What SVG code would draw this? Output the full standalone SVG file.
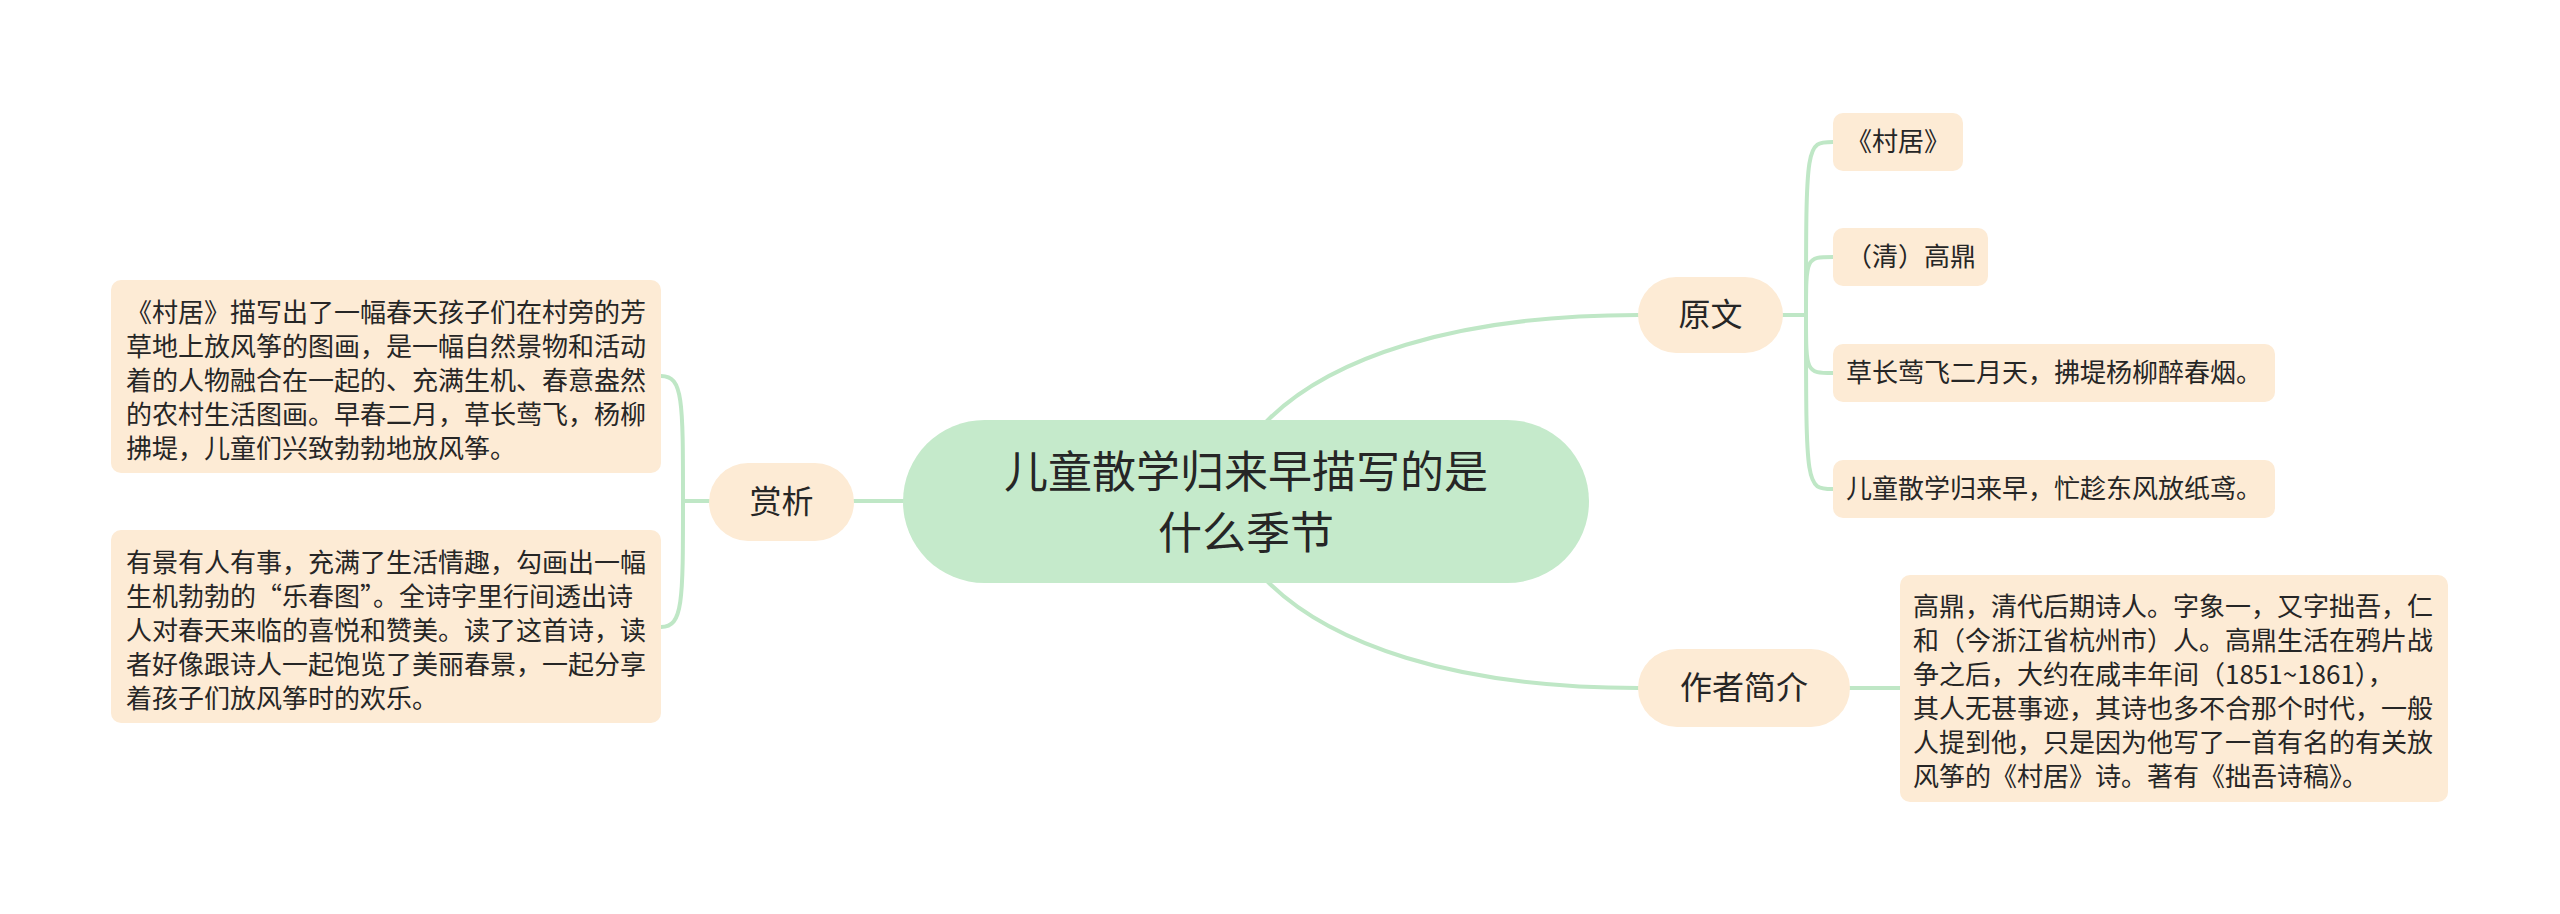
<svg xmlns="http://www.w3.org/2000/svg" width="2560" height="914" viewBox="0 0 2560 914">
<style>
.t{font-family:"Noto Sans CJK SC","Noto Sans",sans-serif;fill:#262626}
.c{font-size:26px}
.m{font-size:32px;text-anchor:middle}
.root{font-size:44px;text-anchor:middle}
.nb{fill:#fdebd5}
.ln{fill:none;stroke:#bfe7c6;stroke-width:4;stroke-linecap:round}
</style>
<rect width="2560" height="914" fill="#ffffff"/>
<g id="connectors">
<path class="ln" d="M1250 438 L1270 418 C1330 360 1450 315 1638 315"/>
<path class="ln" d="M1250 564 L1270 584 C1330 642 1450 688 1638 688"/>
<path class="ln" d="M854 501 H903"/>
<path class="ln" d="M709 501 H683"/>
<path class="ln" d="M683 501 C683 400 683 376 661 376"/>
<path class="ln" d="M683 501 C683 602 683 627 661 627"/>
<path class="ln" d="M1783 315 H1806"/>
<path class="ln" d="M1806 315 C1806 142 1806 142 1833 142"/>
<path class="ln" d="M1806 315 C1806 257 1806 257 1833 257"/>
<path class="ln" d="M1806 315 C1806 373 1806 373 1833 373"/>
<path class="ln" d="M1806 315 C1806 489 1806 489 1833 489"/>
<path class="ln" d="M1850 688 H1900"/>
</g>
<g id="root">
<rect x="903" y="420" width="686" height="163" rx="81.5" fill="#c5eacb"/>
<text class="t root" x="1246" y="488">儿童散学归来早描写的是</text>
<text class="t root" x="1246" y="549">什么季节</text>
</g>
<g id="shangxi">
<rect class="nb" x="709" y="463" width="145" height="78" rx="39"/>
<text class="t m" x="781.5" y="513">赏析</text>
</g>
<g id="shangxi-1">
<rect class="nb" x="111" y="280" width="550" height="193" rx="10"/>
<text class="t c" x="126" y="322">《村居》描写出了一幅春天孩子们在村旁的芳</text>
<text class="t c" x="126" y="356">草地上放风筝的图画，是一幅自然景物和活动</text>
<text class="t c" x="126" y="390">着的人物融合在一起的、充满生机、春意盎然</text>
<text class="t c" x="126" y="424">的农村生活图画。早春二月，草长莺飞，杨柳</text>
<text class="t c" x="126" y="458">拂堤，儿童们兴致勃勃地放风筝。</text>
</g>
<g id="shangxi-2">
<rect class="nb" x="111" y="530" width="550" height="193" rx="10"/>
<text class="t c" x="126" y="572">有景有人有事，充满了生活情趣，勾画出一幅</text>
<text class="t c" x="126" y="606">生机勃勃的“乐春图”。全诗字里行间透出诗</text>
<text class="t c" x="126" y="640">人对春天来临的喜悦和赞美。读了这首诗，读</text>
<text class="t c" x="126" y="674">者好像跟诗人一起饱览了美丽春景，一起分享</text>
<text class="t c" x="126" y="708">着孩子们放风筝时的欢乐。</text>
</g>
<g id="yuanwen">
<rect class="nb" x="1638" y="277" width="145" height="76" rx="38"/>
<text class="t m" x="1710.5" y="326">原文</text>
</g>
<g id="yuanwen-1">
<rect class="nb" x="1833" y="113" width="130" height="58" rx="10"/>
<text class="t c" x="1846" y="151">《村居》</text>
</g>
<g id="yuanwen-2">
<rect class="nb" x="1833" y="228" width="155" height="58" rx="10"/>
<text class="t c" x="1846" y="266">（清）高鼎</text>
</g>
<g id="yuanwen-3">
<rect class="nb" x="1833" y="344" width="442" height="58" rx="10"/>
<text class="t c" x="1846" y="382">草长莺飞二月天，拂堤杨柳醉春烟。</text>
</g>
<g id="yuanwen-4">
<rect class="nb" x="1833" y="460" width="442" height="58" rx="10"/>
<text class="t c" x="1846" y="498">儿童散学归来早，忙趁东风放纸鸢。</text>
</g>
<g id="zuozhe">
<rect class="nb" x="1638" y="649" width="212" height="78" rx="39"/>
<text class="t m" x="1744" y="699">作者简介</text>
</g>
<g id="zuozhe-1">
<rect class="nb" x="1900" y="575" width="548" height="227" rx="10"/>
<text class="t c" x="1913" y="616">高鼎，清代后期诗人。字象一，又字拙吾，仁</text>
<text class="t c" x="1913" y="650">和（今浙江省杭州市）人。高鼎生活在鸦片战</text>
<text class="t c" x="1913" y="684">争之后，大约在咸丰年间（1851~1861），</text>
<text class="t c" x="1913" y="718">其人无甚事迹，其诗也多不合那个时代，一般</text>
<text class="t c" x="1913" y="752">人提到他，只是因为他写了一首有名的有关放</text>
<text class="t c" x="1913" y="786">风筝的《村居》诗。著有《拙吾诗稿》。</text>
</g>
</svg>
